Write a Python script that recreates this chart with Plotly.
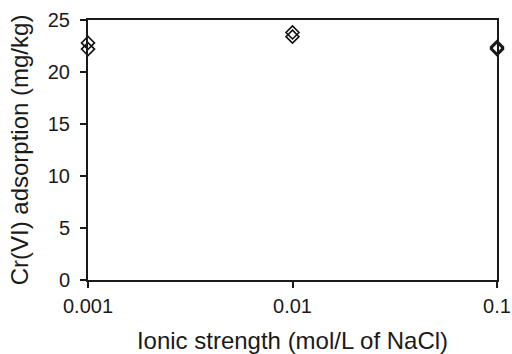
import plotly.graph_objects as go

ionic_strength = [0.001, 0.001, 0.01, 0.01, 0.1, 0.1]
cr_adsorption = [22.8, 22.2, 23.8, 23.4, 22.4, 22.2]
x_tick_vals = [0.001, 0.01, 0.1]
x_tick_text = ["0.001", "0.01", "0.1"]
y_tick_vals = [0, 5, 10, 15, 20, 25]

fig = go.Figure()
fig.add_trace(go.Scatter(
    x=ionic_strength, y=cr_adsorption, mode="markers",
    marker=dict(symbol="diamond-open", size=10, color="#111", line=dict(width=1.6, color="#111")),
    cliponaxis=False, showlegend=False,
))

font = dict(family="Liberation Sans, Arial, sans-serif", size=20, color="#1a1a1a")
fig.update_layout(
    width=512, height=354,
    margin=dict(l=88, r=15, t=20, b=74),
    paper_bgcolor="white", plot_bgcolor="white",
    font=font,
)
fig.update_xaxes(
    type="log", range=[-3.000001, -0.999999],
    tickvals=x_tick_vals, ticktext=x_tick_text,
    ticks="outside", ticklen=6, tickwidth=2, tickcolor="#1a1a1a",
    showline=True, linewidth=2, linecolor="#1a1a1a", mirror=True,
    showgrid=False, zeroline=False, automargin=False,
    ticklabelstandoff=1,
    title=dict(text="Ionic strength (mol/L of NaCl)", font=dict(size=24), standoff=18),
)
fig.update_yaxes(
    range=[0, 25], tickvals=y_tick_vals,
    ticks="outside", ticklen=6, tickwidth=2, tickcolor="#1a1a1a",
    showline=True, linewidth=2, linecolor="#1a1a1a", mirror=True,
    showgrid=False, zeroline=False, automargin=False,
    ticklabelstandoff=6,
    title=dict(text="Cr(VI) adsorption (mg/kg)", font=dict(size=24), standoff=12),
)
fig.write_html("out.html", config={"displayModeBar": False},
               post_script="document.body.style.margin='0';")
